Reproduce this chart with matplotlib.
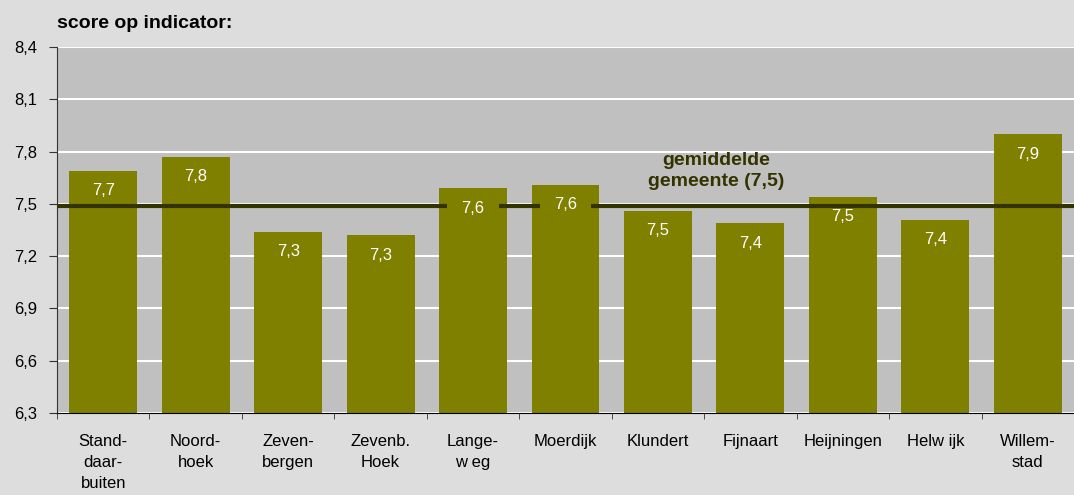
import matplotlib.pyplot as plt
import numpy as np

plt.rcParams['font.family'] = ['Liberation Sans', 'DejaVu Sans']

categories = ['Stand-\ndaar-\nbuiten', 'Noord-\nhoek', 'Zeven-\nbergen', 'Zevenb.\nHoek',
              'Lange-\nw eg', 'Moerdijk', 'Klundert', 'Fijnaart', 'Heijningen',
              'Helw ijk', 'Willem-\nstad']
scores = [7.69, 7.77, 7.34, 7.32, 7.59, 7.61, 7.46, 7.39, 7.54, 7.41, 7.90]
gemiddelde = 7.49
yticks = [6.3, 6.6, 6.9, 7.2, 7.5, 7.8, 8.1, 8.4]

bar_color = '#808000'
line_color = '#333300'

fig = plt.figure(figsize=(10.74, 4.95), dpi=100)
fig.patch.set_facecolor('#dddddd')
ax = fig.add_axes([57 / 1074, 1 - 413 / 495, 1 - 57 / 1074, (413 - 47) / 495])
ax.set_facecolor('#c0c0c0')

x = np.arange(len(categories))
ax.bar(x, scores, width=0.735, color=bar_color, zorder=2)

# value labels sit ~20 px under the bar top; the average line is broken
# where a label crosses it
drop_px = 20
drop = drop_px * 2.1 / 366
gaps = []
for xi, v in zip(x, scores):
    ax.annotate(('%.1f' % v).replace('.', ','), (xi, v), xytext=(0, -drop_px),
                textcoords='offset pixels',
                ha='center', va='center', color='white', fontsize=12, zorder=4)
    if abs(v - drop - gemiddelde) < 0.05:
        gaps.append((xi - 0.28, xi + 0.28))

start = -0.5
for g0, g1 in gaps:
    ax.hlines(gemiddelde, start, g0, color=line_color, lw=3, zorder=3)
    start = g1
ax.hlines(gemiddelde, start, len(categories) - 0.5, color=line_color, lw=3, zorder=3)

ax.text(6.63, 7.69, 'gemiddelde\ngemeente (%s)' % ('%.1f' % gemiddelde).replace('.', ','),
        ha='center', va='center', color=line_color, fontsize=14, fontweight='bold',
        linespacing=1.3, zorder=4)

ax.set_ylim(6.3, 8.4)
ax.set_xlim(-0.5, len(categories) - 0.5)
ax.set_yticks(yticks)
ax.set_yticklabels([('%.1f' % t).replace('.', ',') for t in yticks], fontsize=12)
ax.yaxis.grid(True, color='white', lw=1.5, zorder=1)
ax.set_axisbelow(True)

ax.set_xticks(x)
ax.set_xticklabels(categories, fontsize=12, linespacing=1.5, va='top')
ax.set_xticks(np.arange(len(categories) + 1) - 0.5, minor=True)
ax.tick_params(axis='x', which='major', length=0, pad=15)
ax.tick_params(axis='x', which='minor', length=4, color='#333333', direction='out')
ax.tick_params(axis='y', length=6, color='#333333', direction='out', pad=8)

for side in ['top', 'right']:
    ax.spines[side].set_visible(False)
ax.spines['left'].set_color('#333333')
ax.spines['bottom'].set_color('black')

fig.text(57 / 1074, 1 - 24 / 495, 'score op indicator:', fontsize=14, fontweight='bold',
         ha='left', va='center')

fig.savefig('out.png', dpi=100, facecolor=fig.get_facecolor())
